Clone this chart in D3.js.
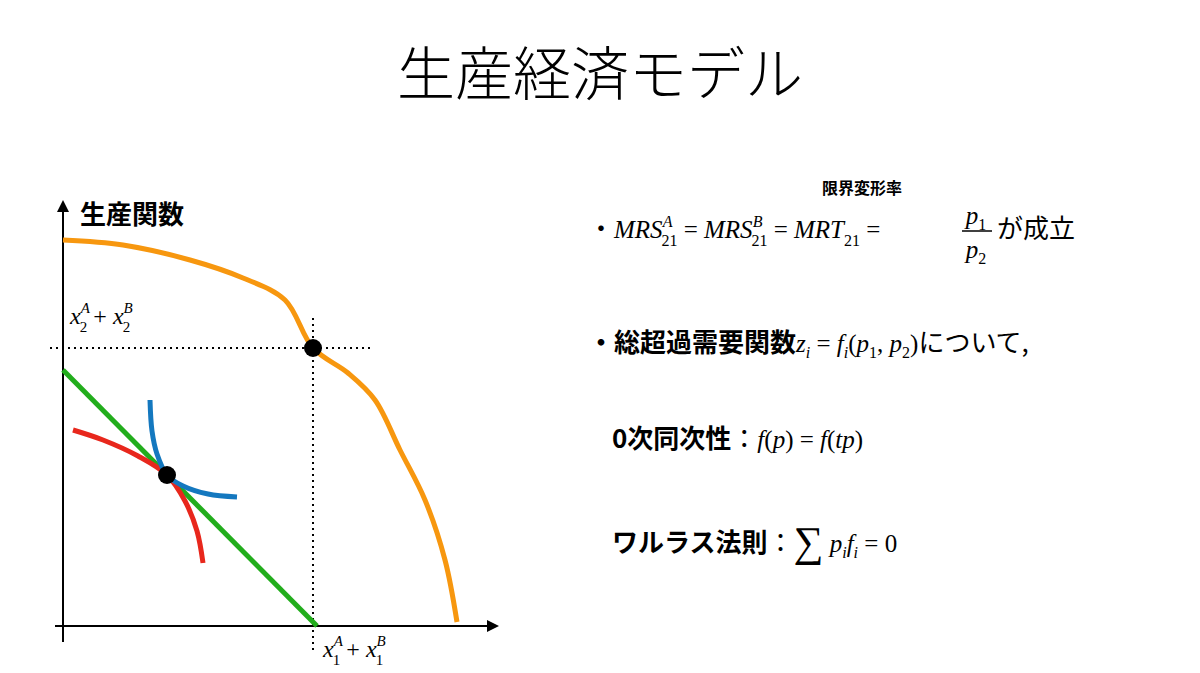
<!DOCTYPE html><html><head><meta charset="utf-8">
<script src="https://cdn.jsdelivr.net/npm/d3@7"></script>
<style>body{margin:0;background:#fff}</style></head><body>
<script>
const ppf=[[0,386],[60,381],[127,366],[180,348],[222,326],[250,278],[285,253],[312,226],[337,176],[362,126],[382,66],[394,4]];
const budget=[[0,256],[254,0]];
const redCurve=[[10,196],[40,186],[75,170],[104,151],[122,125],[134,95],[140,63]];
const blueCurve=[[87,226],[89,195],[94,172],[104,151],[120,140],[145,132],[174,129]];
const points=[[104,151],[250,278]];
const W=1200,H=673;
const svg=d3.select("body").append("svg").attr("width",W).attr("height",H);
const x=d3.scaleLinear().domain([0,435]).range([63,498]);
const y=d3.scaleLinear().domain([0,426]).range([626,200]);
const J="'Noto Sans CJK JP',sans-serif", S="'Liberation Serif','DejaVu Serif',serif";
svg.append("text").attr("x",600).attr("y",95).attr("text-anchor","middle").attr("font-family",J).attr("font-weight",300).attr("font-size",58).text("生産経済モデル");
svg.append("defs").append("marker").attr("id","ar").attr("viewBox","0 0 10 10").attr("refX",5).attr("refY",5).attr("markerWidth",6).attr("markerHeight",6).attr("orient","auto").append("path").attr("d","M0,0L10,5L0,10Z").attr("fill","#000");
svg.append("line").attr("x1",x(0)-8).attr("y1",y(0)).attr("x2",x(430)).attr("y2",y(0)).attr("stroke","#000").attr("stroke-width",2).attr("marker-end","url(#ar)");
svg.append("line").attr("x1",x(0)).attr("y1",y(0)+16).attr("x2",x(0)).attr("y2",y(420)).attr("stroke","#000").attr("stroke-width",2).attr("marker-end","url(#ar)");
const px=points[1];
svg.append("line").attr("x1",50).attr("x2",370).attr("y1",y(px[1])).attr("y2",y(px[1])).attr("stroke","#000").attr("stroke-width",2).attr("stroke-dasharray","2,4");
svg.append("line").attr("x1",x(px[0])).attr("x2",x(px[0])).attr("y1",318).attr("y2",650).attr("stroke","#000").attr("stroke-width",2).attr("stroke-dasharray","2,4");
const ln=d3.line().x(d=>x(d[0])).y(d=>y(d[1])).curve(d3.curveCatmullRom);
[[ppf,"#f7970f"],[budget,"#22ad1c"],[redCurve,"#e8271c"],[blueCurve,"#1478bf"]].forEach(([d,c])=>svg.append("path").attr("d",ln(d)).attr("fill","none").attr("stroke",c).attr("stroke-width",5));
svg.selectAll("circle").data(points).join("circle").attr("cx",d=>x(d[0])).attr("cy",d=>y(d[1])).attr("r",9).attr("fill","#000");
svg.append("text").attr("x",80).attr("y",224).attr("font-family",J).attr("font-weight",700).attr("font-size",26).text("生産関数");
function sumLabel(xx,yy,i){const t=svg.append("text").attr("x",xx).attr("y",yy).attr("font-family",S).attr("font-size",24);
 const add=(s,o)=>t.append("tspan").attr("font-style",o.it?"italic":"normal").attr("font-size",o.fs||24).attr("dy",o.dy||0).attr("dx",o.dx||0).text(s);
 add("x",{it:1});add("A",{it:1,fs:15,dy:-11});add(i,{fs:15,dx:-10,dy:19});add(" + ",{dy:-8});add("x",{it:1});add("B",{it:1,fs:15,dy:-11});add(i,{fs:15,dx:-10,dy:19});}
sumLabel(70,324,"2");sumLabel(323,657,"1");
function txt(xx,yy,parts,anchor){const t=svg.append("text").attr("x",xx).attr("y",yy).attr("font-size",26).attr("text-anchor",anchor||"start");
 parts.forEach(p=>t.append("tspan").attr("font-family",p.j?J:S).attr("font-weight",p.b?700:400).attr("font-style",p.it?"italic":"normal").attr("font-size",p.fs||(p.j?26:25)).attr("dy",p.dy||0).attr("dx",p.dx||0).text(p.s));return t;}
txt(588,238,[{s:"・",j:1},{s:"MRS",it:1},{s:"A",it:1,fs:16,dy:-11},{s:"21",fs:16,dx:-11,dy:19},{s:" = ",dy:-8},{s:"MRS",it:1},{s:"B",it:1,fs:16,dy:-11},{s:"21",fs:16,dx:-11,dy:19},{s:" = ",dy:-8},{s:"MRT",it:1},{s:"21",fs:16,dy:8},{s:" =",dy:-8}]);
txt(822,194,[{s:"限界変形率",j:1,b:1,fs:16}]);
txt(976,224,[{s:"p",it:1},{s:"1",fs:16,dy:6}],"middle");
svg.append("line").attr("x1",962).attr("x2",992).attr("y1",231).attr("y2",231).attr("stroke","#000").attr("stroke-width",1.5);
txt(976,258,[{s:"p",it:1},{s:"2",fs:16,dy:6}],"middle");
txt(997,238,[{s:"が成立",j:1}]);
txt(588,352,[{s:"・総超過需要関数",j:1,b:1},{s:"z",it:1},{s:"i",it:1,fs:16,dy:6},{s:" = ",dy:-6},{s:"f",it:1},{s:"i",it:1,fs:16,dy:6},{s:"(",dy:-6},{s:"p",it:1},{s:"1",fs:16,dy:6},{s:", ",dy:-6},{s:"p",it:1},{s:"2",fs:16,dy:6},{s:")",dy:-6},{s:"について,",j:1}]);
txt(612,448,[{s:"0次同次性",j:1,b:1},{s:"：",j:1},{s:"f",it:1},{s:"("},{s:"p",it:1},{s:") = "},{s:"f",it:1},{s:"("},{s:"tp",it:1},{s:")"}]);
txt(612,552,[{s:"ワルラス法則",j:1,b:1},{s:"：",j:1},{s:"∑",fs:42,dy:4},{s:" p",it:1,dy:-4},{s:"i",it:1,fs:16,dy:6},{s:"f",it:1,dy:-6},{s:"i",it:1,fs:16,dy:6},{s:" = 0",dy:-6}]);
</script></body></html>
